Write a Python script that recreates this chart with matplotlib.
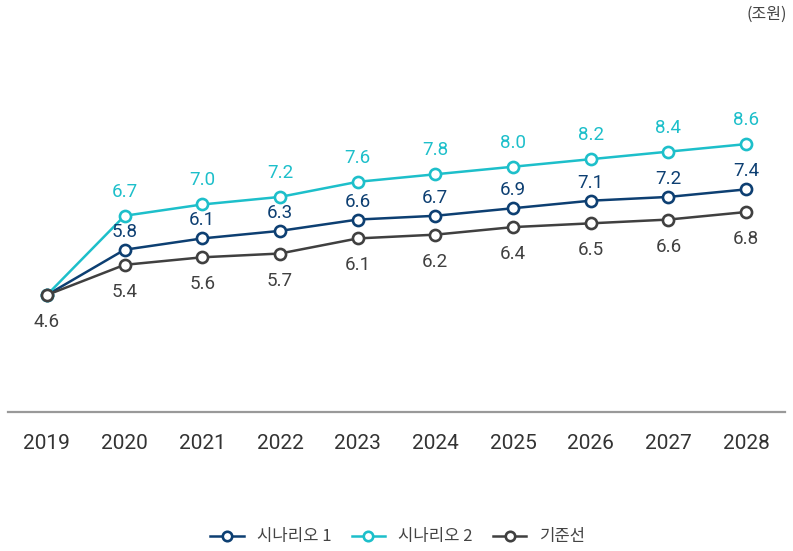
import matplotlib
matplotlib.use("Agg")
import matplotlib.pyplot as plt

# -------------------------------------------------
# Data
# -------------------------------------------------
years = ["2019", "2020", "2021", "2022", "2023", "2024", "2025", "2026", "2027", "2028"]
scenario1 = [4.6, 5.8, 6.1, 6.3, 6.6, 6.7, 6.9, 7.1, 7.2, 7.4]
scenario2 = [4.6, 6.7, 7.0, 7.2, 7.6, 7.8, 8.0, 8.2, 8.4, 8.6]
baseline = [4.6, 5.4, 5.6, 5.7, 6.1, 6.2, 6.4, 6.5, 6.6, 6.8]
series_names = ["시나리오 1", "시나리오 2", "기준선"]
unit_label = "(조원)"

NUM_FONT = ["Roboto", "DejaVu Sans"]
KR_FONT = ["Noto Sans CJK KR", "DejaVu Sans"]

c1 = "#0d3f72"
c2 = "#1dbfca"
c3 = "#404040"

fig = plt.figure(figsize=(7.93, 5.51), dpi=100)
ax = fig.add_axes([8 / 793, 1 - 412 / 551, 777 / 793, (412 - 27.5) / 551])

x = list(range(len(years)))
styles = [
    (scenario1, c1, 18),
    (scenario2, c2, 24),
    (baseline, c3, -27),
]
handles = []
for (vals, col, off), name in zip(styles, series_names):
    h, = ax.plot(x, vals, color=col, lw=1.8, marker="o", ms=8,
                 mfc="white", mec=col, mew=1.9, label=name, zorder=3)
    handles.append(h)

# value labels (shared first point labelled once, below)
for vals, col, off in styles:
    for i, v in enumerate(vals):
        if i == 0 and off > 0:
            continue
        ax.annotate(f"{v:.1f}", (i, v), xytext=(0, off), textcoords="offset pixels",
                    ha="center", va="center", color=col, fontsize=13.5, family=NUM_FONT)

ax.set_xlim(-0.5, 9.5)
ax.set_ylim(1.5, 11.69)
ax.set_yticks([])
ax.set_xticks(x)
ax.set_xticklabels(years, family=NUM_FONT, fontsize=15, color="#333333")
ax.tick_params(axis="x", length=0, pad=16)
for s in ["top", "right", "left"]:
    ax.spines[s].set_visible(False)
ax.spines["bottom"].set_color("#999999")
ax.spines["bottom"].set_linewidth(1.6)

fig.text(787 / 793, 1 - 14 / 551, unit_label, ha="right", va="center",
         fontsize=11.5, color="#444444", family=KR_FONT)

leg = fig.legend(handles=handles, loc="center", bbox_to_anchor=(398 / 793, 1 - 537 / 551),
                 ncol=3, frameon=False, handlelength=2.0, columnspacing=1.2,
                 markerscale=0.85, prop={"family": KR_FONT, "size": 12},
                 handletextpad=0.8)
for t in leg.get_texts():
    t.set_color("#444444")

plt.savefig("out.png", dpi=100)
